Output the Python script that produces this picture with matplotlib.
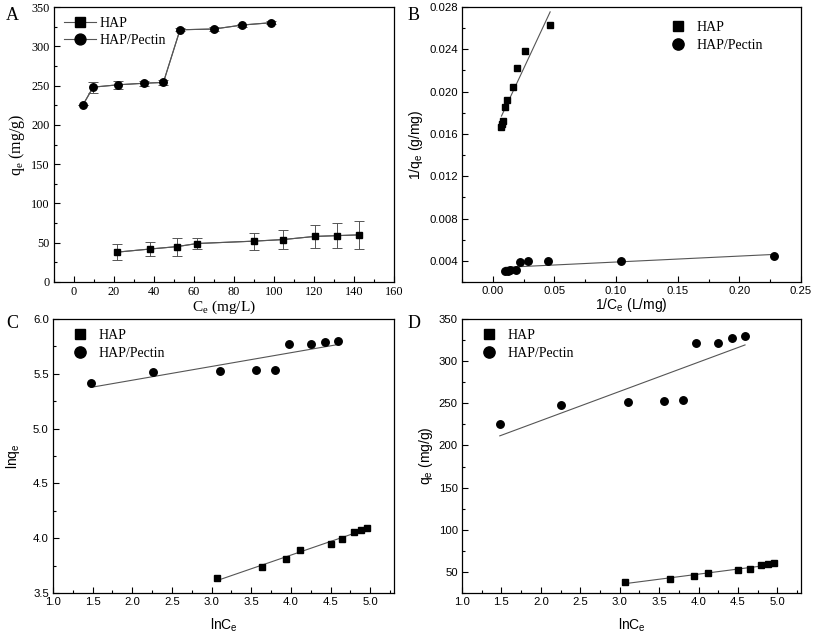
import numpy as np
import matplotlib
matplotlib.use("Agg")
import matplotlib.pyplot as plt
from matplotlib.ticker import MultipleLocator, FormatStrFormatter

# ---- data ----
ce_hap = [21.5, 38.1, 51.4, 61.6, 90.0, 104.6, 120.3, 131.6, 142.6]
qe_hap = [38, 42, 45, 49, 52, 54, 58, 59, 60]
err_hap = [10, 8.5, 11.5, 7, 11, 12.5, 15, 16, 17.5]

ce_pec = [4.39, 9.58, 22.2, 35.2, 44.7, 53.0, 70.1, 83.9, 98.5]
qe_pec = [225, 248, 251, 253, 254, 321, 322, 327, 330]
err_pec = [0, 7, 5, 3, 3, 2, 2, 2, 2]

labels = ["HAP", "HAP/Pectin"]

SERIF = "Liberation Serif"
SANS = "Liberation Sans"
GRAY = "#555555"

fig = plt.figure(figsize=(8.13, 6.38), dpi=100)
W, H = 813, 638

def ax_at(l, t, r, b):
    return fig.add_axes([l / W, 1 - b / H, (r - l) / W, (b - t) / H])

axA = ax_at(54, 7, 394, 282)
axB = ax_at(462, 7, 801, 282)
axC = ax_at(53, 319, 394, 593)
axD = ax_at(462, 319, 801, 593)

def style(ax, font, tsize=8):
    ax.tick_params(which="both", direction="in", top=False, right=False)
    ax.tick_params(which="major", length=4, width=0.8, labelsize=tsize, pad=3)
    ax.tick_params(which="minor", length=2, width=0.8)
    for lab in ax.get_xticklabels() + ax.get_yticklabels():
        lab.set_fontfamily(font)
    for s in ax.spines.values():
        s.set_linewidth(0.9)

ms_sq = 4.6
ms_ci = 5.4
LEGPROP = {"family": SERIF, "size": 10}

# ---- Panel A ----
ax = axA
ax.errorbar(ce_hap, qe_hap, yerr=err_hap, fmt="-", color=GRAY, lw=0.8,
            ecolor=GRAY, elinewidth=0.7, capsize=3.5, capthick=0.7, zorder=1)
ax.errorbar(ce_pec, qe_pec, yerr=err_pec, fmt="-", color=GRAY, lw=0.8,
            ecolor=GRAY, elinewidth=0.7, capsize=3.5, capthick=0.7, zorder=1)
h1, = ax.plot(ce_hap, qe_hap, "s-", color=GRAY, mfc="black", mec="black", ms=ms_sq, lw=0.8, zorder=3)
h2, = ax.plot(ce_pec, qe_pec, "o-", color=GRAY, mfc="black", mec="black", ms=ms_ci, lw=0.8, zorder=3)
ax.set_xlim(-10, 160)
ax.set_ylim(0, 350)
ax.xaxis.set_major_locator(MultipleLocator(20))
ax.xaxis.set_minor_locator(MultipleLocator(10))
ax.yaxis.set_major_locator(MultipleLocator(50))
ax.yaxis.set_minor_locator(MultipleLocator(25))
style(ax, SERIF, 8.8)
ax.set_xlabel(r"C$_\mathregular{e}$ (mg/L)", family=SERIF, fontsize=11, labelpad=0)
ax.set_ylabel(r"q$_\mathregular{e}$ (mg/g)", family=SERIF, fontsize=11.5, labelpad=3)
ax.legend([h1, h2], labels, loc="upper left", frameon=False,
          prop=LEGPROP, handlelength=2.3, markerscale=1.45,
          borderaxespad=0.3, handletextpad=0.3, labelspacing=0.3)

# ---- Panel B ----
ax = axB
x_hapB = 1 / np.array(ce_hap)
y_hapB = 1 / np.array(qe_hap, dtype=float)
x_pecB = 1 / np.array(ce_pec)
y_pecB = 1 / np.array(qe_pec, dtype=float)
hb1, = ax.plot(x_hapB, y_hapB, "s", color="black", ms=ms_sq, ls="none")
hb2, = ax.plot(x_pecB, y_pecB, "o", color="black", ms=ms_ci, ls="none")
for xs, ys in [(x_hapB, y_hapB), (x_pecB, y_pecB)]:
    k, b0 = np.polyfit(xs, ys, 1)
    xx = np.array([xs.min(), xs.max()])
    ax.plot(xx, k * xx + b0, color=GRAY, lw=0.8, zorder=1)
ax.set_xlim(-0.025, 0.25)
ax.set_ylim(0.002, 0.028)
ax.xaxis.set_major_locator(MultipleLocator(0.05))
ax.xaxis.set_minor_locator(MultipleLocator(0.025))
ax.yaxis.set_major_locator(MultipleLocator(0.004))
ax.yaxis.set_minor_locator(MultipleLocator(0.002))
ax.xaxis.set_major_formatter(FormatStrFormatter("%.2f"))
ax.yaxis.set_major_formatter(FormatStrFormatter("%.3f"))
style(ax, SANS, 8.2)
ax.set_xlabel(r"1/C$_\mathregular{e}$ (L/mg)", family=SANS, fontsize=10, labelpad=0)
ax.set_ylabel(r"1/q$_\mathregular{e}$ (g/mg)", family=SANS, fontsize=10, labelpad=3)
ax.legend([hb1, hb2], labels, loc="upper right", frameon=False,
          prop=LEGPROP, handlelength=1.5, markerscale=1.5,
          borderaxespad=0.6, handletextpad=0.6, labelspacing=0.35,
          bbox_to_anchor=(0.93, 1.0))

# ---- Panel C ----
ax = axC
x_hapC = np.log(ce_hap)
y_hapC = np.log(qe_hap)
x_pecC = np.log(ce_pec)
y_pecC = np.log(qe_pec)
hc1, = ax.plot(x_hapC, y_hapC, "s", color="black", ms=ms_sq, ls="none")
hc2, = ax.plot(x_pecC, y_pecC, "o", color="black", ms=ms_ci, ls="none")
for xs, ys in [(x_hapC, y_hapC), (x_pecC, y_pecC)]:
    k, b0 = np.polyfit(xs, ys, 1)
    xx = np.array([xs.min(), xs.max()])
    ax.plot(xx, k * xx + b0, color=GRAY, lw=0.8, zorder=1)
ax.set_xlim(1.0, 5.3)
ax.set_ylim(3.5, 6.0)
ax.xaxis.set_major_locator(MultipleLocator(0.5))
ax.xaxis.set_minor_locator(MultipleLocator(0.25))
ax.yaxis.set_major_locator(MultipleLocator(0.5))
ax.yaxis.set_minor_locator(MultipleLocator(0.25))
ax.xaxis.set_major_formatter(FormatStrFormatter("%.1f"))
ax.yaxis.set_major_formatter(FormatStrFormatter("%.1f"))
style(ax, SANS, 8.2)
ax.set_xlabel(r"lnC$_\mathregular{e}$", family=SANS, fontsize=10, labelpad=7)
ax.set_ylabel(r"lnq$_\mathregular{e}$", family=SANS, fontsize=10, labelpad=8)
ax.legend([hc1, hc2], labels, loc="upper left", frameon=False,
          prop=LEGPROP, handlelength=1.5, markerscale=1.5,
          borderaxespad=0.3, handletextpad=0.6, labelspacing=0.35,
          bbox_to_anchor=(0.02, 1.0))

# ---- Panel D ----
ax = axD
hd1, = ax.plot(x_hapC, qe_hap, "s", color="black", ms=ms_sq, ls="none")
hd2, = ax.plot(x_pecC, qe_pec, "o", color="black", ms=ms_ci, ls="none")
for xs, ys in [(x_hapC, np.array(qe_hap, float)), (x_pecC, np.array(qe_pec, float))]:
    k, b0 = np.polyfit(xs, ys, 1)
    xx = np.array([xs.min(), xs.max()])
    ax.plot(xx, k * xx + b0, color=GRAY, lw=0.8, zorder=1)
ax.set_xlim(1.0, 5.3)
ax.set_ylim(25, 350)
ax.xaxis.set_major_locator(MultipleLocator(0.5))
ax.xaxis.set_minor_locator(MultipleLocator(0.25))
ax.yaxis.set_major_locator(MultipleLocator(50))
ax.yaxis.set_minor_locator(MultipleLocator(25))
ax.xaxis.set_major_formatter(FormatStrFormatter("%.1f"))
style(ax, SANS, 8.2)
ax.set_xlabel(r"lnC$_\mathregular{e}$", family=SANS, fontsize=10, labelpad=7)
ax.set_ylabel(r"q$_\mathregular{e}$ (mg/g)", family=SANS, fontsize=10, labelpad=3)
ax.legend([hd1, hd2], labels, loc="upper left", frameon=False,
          prop=LEGPROP, handlelength=1.5, markerscale=1.5,
          borderaxespad=0.3, handletextpad=0.6, labelspacing=0.35,
          bbox_to_anchor=(0.02, 1.0))

# ---- panel letters ----
for letter, (px, py) in zip("ABCD", [(12, 16), (414, 16), (12, 324), (414, 324)]):
    fig.text(px / W, 1 - py / H, letter, family=SERIF, fontsize=13,
             ha="center", va="center")

fig.savefig("out.png", dpi=100)
